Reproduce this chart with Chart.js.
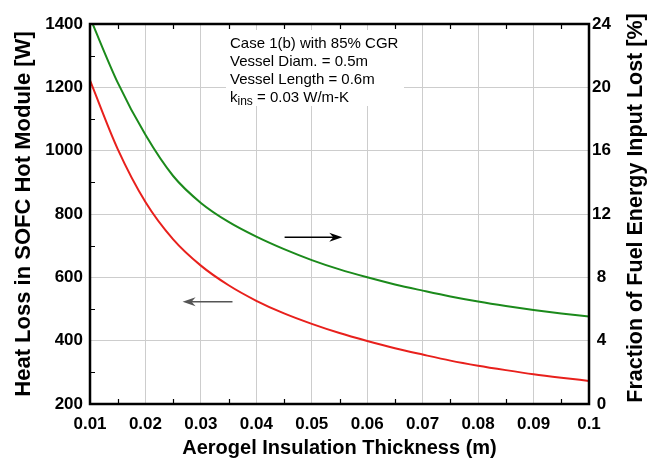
<!DOCTYPE html>
<html>
<head>
<meta charset="utf-8">
<script src="https://cdn.jsdelivr.net/npm/chart.js@4.4.0/dist/chart.umd.min.js"></script>
<style>
  body { margin: 0; background: #fff; }
  #wrap { width: 651px; height: 460px; }
</style>
</head>
<body>
<div id="wrap"><canvas id="lossChart" width="651" height="460"></canvas></div>
<script>
// values
const thickness = [0.01, 0.015, 0.02, 0.025, 0.03, 0.035, 0.04, 0.045, 0.05, 0.055,
  0.06, 0.065, 0.07, 0.075, 0.08, 0.085, 0.09, 0.095, 0.1];
const heatLoss = [1222, 1005, 838, 720, 637, 575, 526, 486, 453, 424,
  399, 376, 356, 337, 321, 307, 294, 283, 273];
const fuelLost = [24.4, 20.3, 17.0, 14.4, 12.7, 11.5, 10.57, 9.78, 9.09, 8.5,
  8.0, 7.55, 7.16, 6.79, 6.47, 6.19, 5.94, 5.72, 5.52];

const xTicks = [0.01, 0.02, 0.03, 0.04, 0.05, 0.06, 0.07, 0.08, 0.09, 0.1];
const xTickLabels = ['0.01', '0.02', '0.03', '0.04', '0.05', '0.06', '0.07', '0.08', '0.09', '0.1'];
const heatTicks = [200, 400, 600, 800, 1000, 1200, 1400];
const fracTicks = [0, 4, 8, 12, 16, 20, 24];

const notes = ['Case 1(b) with 85% CGR', 'Vessel Diam. = 0.5m', 'Vessel Length = 0.6m'];

const FONT = '"Liberation Sans", Arial, Helvetica, sans-serif';

function arrow(ctx, x1, y1, x2, y2, color) {
  const dir = Math.sign(x2 - x1);
  ctx.strokeStyle = color;
  ctx.fillStyle = color;
  ctx.lineWidth = 1.5;
  ctx.beginPath();
  ctx.moveTo(x1, y1);
  ctx.lineTo(x2 - dir * 6, y2);
  ctx.stroke();
  ctx.beginPath();
  ctx.moveTo(x2, y2);
  ctx.lineTo(x2 - dir * 13, y2 - 4.5);
  ctx.lineTo(x2 - dir * 9, y2);
  ctx.lineTo(x2 - dir * 13, y2 + 4.5);
  ctx.closePath();
  ctx.fill();
}

function midpoints(arr) {
  return arr.slice(1).map((v, i) => (v + arr[i]) / 2);
}

const decorations = {
  id: 'decorations',
  beforeDatasetsDraw(chart) {
    const { ctx, chartArea } = chart;
    const bx = chartArea.left + 136, by = chartArea.top + 6;
    ctx.save();
    ctx.fillStyle = '#fff';
    ctx.fillRect(bx, by, 178, 76);

    ctx.fillStyle = '#000';
    ctx.font = '15px ' + FONT;
    ctx.textBaseline = 'middle';
    ctx.textAlign = 'left';
    const tx0 = bx + 4;
    notes.forEach((t, i) => ctx.fillText(t, tx0, by + 14 + i * 18));
    let tx = tx0;
    const ty = by + 14 + 3 * 18;
    ctx.fillText('k', tx, ty);
    tx += ctx.measureText('k').width;
    ctx.font = '12px ' + FONT;
    ctx.fillText('ins', tx, ty + 4);
    tx += ctx.measureText('ins').width;
    ctx.font = '15px ' + FONT;
    ctx.fillText(' = 0.03 W/m-K', tx, ty);
    ctx.restore();
  },
  afterDatasetsDraw(chart) {
    const { ctx, chartArea } = chart;
    const { left, right, top, bottom } = chartArea;
    const x = chart.scales.x, y = chart.scales.y, y2 = chart.scales.y2;
    ctx.save();

    // minor ticks, pointing inward
    ctx.strokeStyle = '#000';
    ctx.lineWidth = 1.2;
    ctx.beginPath();
    midpoints(xTicks).forEach(v => {
      const px = Math.round(x.getPixelForValue(v)) + 0.5;
      ctx.moveTo(px, bottom); ctx.lineTo(px, bottom - 5);
      ctx.moveTo(px, top); ctx.lineTo(px, top + 5);
    });
    midpoints(heatTicks).forEach(v => {
      const py = Math.round(y.getPixelForValue(v)) + 0.5;
      ctx.moveTo(left, py); ctx.lineTo(left + 5, py);
    });
    ctx.stroke();

    // frame
    ctx.lineWidth = 2.5;
    ctx.strokeRect(left, top, right - left, bottom - top);

    // arrows pointing at each curve's axis
    arrow(ctx, x.getPixelForValue(0.0357), y.getPixelForValue(523),
      x.getPixelForValue(0.0267), y.getPixelForValue(523), '#555');
    arrow(ctx, x.getPixelForValue(0.0451), y2.getPixelForValue(10.53),
      x.getPixelForValue(0.0555), y2.getPixelForValue(10.53), '#000');

    // right axis title, reading bottom to top
    ctx.translate(636, (top + bottom) / 2 - 6);
    ctx.rotate(-Math.PI / 2);
    ctx.fillStyle = '#000';
    ctx.font = 'bold 21.5px ' + FONT;
    ctx.textAlign = 'center';
    ctx.textBaseline = 'middle';
    ctx.fillText('Fraction of Fuel Energy Input Lost [%]', 0, 0);
    ctx.restore();
  }
};

const tickFont = { family: FONT, size: 17, weight: 'bold' };

new Chart(document.getElementById('lossChart'), {
  type: 'line',
  data: {
    datasets: [
      {
        label: 'Heat loss',
        data: thickness.map((t, i) => ({ x: t, y: heatLoss[i] })),
        yAxisID: 'y',
        borderColor: '#e8201c',
        borderWidth: 2,
        pointRadius: 0,
        cubicInterpolationMode: 'monotone'
      },
      {
        label: 'Fuel energy lost',
        data: thickness.map((t, i) => ({ x: t, y: fuelLost[i] })),
        yAxisID: 'y2',
        borderColor: '#1b8a1b',
        borderWidth: 2,
        pointRadius: 0,
        cubicInterpolationMode: 'monotone'
      }
    ]
  },
  options: {
    responsive: false,
    animation: false,
    layout: { padding: { top: 24, left: 0, right: 0, bottom: 0 } },
    plugins: { legend: { display: false }, tooltip: { enabled: false } },
    scales: {
      x: {
        type: 'linear',
        min: 0.01,
        max: 0.1,
        afterBuildTicks: s => { s.ticks = xTicks.map(v => ({ value: v })); },
        afterFit: s => { s.height = 56; },
        grid: { color: '#cdcdcd', drawTicks: false },
        border: { display: false },
        ticks: {
          color: '#000',
          font: tickFont,
          padding: 10,
          maxRotation: 0,
          autoSkip: false,
          callback: (v, i) => xTickLabels[i]
        },
        title: {
          display: true,
          text: 'Aerogel Insulation Thickness (m)',
          color: '#000',
          font: { family: FONT, size: 20, weight: 'bold' },
          padding: { top: 0, bottom: 0 }
        }
      },
      y: {
        position: 'left',
        min: 200,
        max: 1400,
        afterBuildTicks: s => { s.ticks = heatTicks.map(v => ({ value: v })); },
        afterFit: s => { s.width = 90; },
        grid: { color: '#cdcdcd', drawTicks: false },
        border: { display: false },
        ticks: { color: '#000', font: tickFont, padding: 7, callback: v => String(v) },
        title: {
          display: true,
          text: 'Heat Loss in SOFC Hot Module [W]',
          color: '#000',
          font: { family: FONT, size: 22, weight: 'bold' },
          padding: { top: 11, bottom: 0 }
        }
      },
      y2: {
        position: 'right',
        min: 0,
        max: 24,
        afterBuildTicks: s => { s.ticks = fracTicks.map(v => ({ value: v })); },
        afterFit: s => { s.width = 62; },
        grid: { display: false, drawTicks: false },
        border: { display: false },
        ticks: { color: '#000', font: tickFont, padding: 3, crossAlign: 'center', callback: v => String(v) }
      }
    }
  },
  plugins: [decorations]
});
</script>
</body>
</html>
